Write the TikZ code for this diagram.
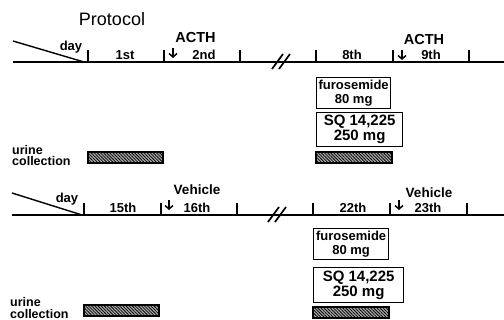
\documentclass[tikz,border=0pt]{standalone}
\usepackage{fontspec}
\setmainfont{Liberation Sans}
\usetikzlibrary{arrows.meta,patterns.meta}
\begin{document}
\begin{tikzpicture}[x=1pt,y=-1pt,
  lbl/.style={font=\bfseries\fontsize{13}{13}\selectfont, inner sep=0pt},
  daylbl/.style={lbl, anchor=base},
  axis/.style={line width=2pt},
  slope/.style={line width=1.4pt},
  tickmark/.style={line width=1.5pt},
  brk/.style={line width=1.7pt},
  inject/.style={line width=1.5pt, -{Straight Barb[length=3.5pt,width=8pt,line width=1.5pt]}},
  dose/.style={draw, line width=1.3pt, align=center, anchor=north west,
    font=\bfseries\fontsize{13}{13.5}\selectfont, inner xsep=2pt, inner ysep=2.5pt},
  sqdose/.style={dose, font=\bfseries\fontsize{15}{15}\selectfont},
  collect/.style={draw, line width=1.4pt, fill=gray!65,
    postaction={pattern={Lines[angle=-45,distance=2.2pt,line width=0.8pt]}}},
  urine/.style={lbl, align=left, anchor=west, font=\bfseries\fontsize{12.5}{11.5}\selectfont},
]
\useasboundingbox (0,0) rectangle (504,320);

% title
\node[font=\fontsize{18}{18}\selectfont, inner sep=0pt] (title) at (112,19) {Protocol};

% ===== top protocol =====
\coordinate (tl) at (13,62);
\coordinate (tr) at (504,62);
\coordinate (ts) at (13,41);
\coordinate (t0) at (84,62);
\draw[axis] (tl) -- (tr);
\draw[slope] (ts) -- (t0);
\foreach \x [count=\i] in {88,164,240,316,393,469} {
  \coordinate (tt\i) at (\x,62);
  \draw[tickmark] (tt\i) -- ++(0,-12);
}
\node[lbl] (tday) at (71,47) {day};
\node[daylbl] (t1st) at (125,59.5) {1st};
\node[daylbl] (t2nd) at (204,59.5) {2nd};
\node[daylbl] (t8th) at (352,59.5) {8th};
\node[daylbl] (t9th) at (431,59.5) {9th};
\node[lbl, font=\bfseries\fontsize{14.5}{14.5}\selectfont] (acth1) at (195.5,37.5) {ACTH};
\node[lbl, font=\bfseries\fontsize{14.5}{14.5}\selectfont] (acth2) at (424,40) {ACTH};
\coordinate (ta1) at (173,48);
\coordinate (tb1) at (173,58);
\coordinate (ta2) at (402,50);
\coordinate (tb2) at (402,60);
\draw[inject] (ta1) -- (tb1);
\draw[inject] (ta2) -- (tb2);
\draw[brk] (272,69) -- (283,54);
\draw[brk] (279,69) -- (290,54);

\node[dose, minimum width=74pt, minimum height=30pt] (tfuro) at (316,77) {furosemide\\80 mg};
\node[sqdose, minimum width=86pt, minimum height=32pt] (tsq) at (316,112) {SQ 14,225\\250 mg};
\draw[collect] (88,152) rectangle (163,163);
\draw[collect] (316,152) rectangle (392,163);
\node[urine] (turine) at (12,155.5) {urine\\collection};

% ===== bottom protocol =====
\coordinate (bl) at (12,215);
\coordinate (br) at (504,215);
\coordinate (bs) at (12,193);
\coordinate (b0) at (82,215);
\draw[axis, line width=2.3pt] (bl) -- (br);
\draw[slope] (bs) -- (b0);
\foreach \x [count=\i] in {84,161,237,313,390,467} {
  \coordinate (bt\i) at (\x,215);
  \draw[tickmark] (bt\i) -- ++(0,-12);
}
\node[lbl] (bday) at (67,199) {day};
\node[daylbl] (b15) at (123,212.5) {15th};
\node[daylbl] (b16) at (197,212.5) {16th};
\node[daylbl] (b22) at (353,212.5) {22th};
\node[daylbl] (b23) at (428,212.5) {23th};
\node[lbl, font=\bfseries\fontsize{13.5}{13.5}\selectfont] (veh1) at (197,190) {Vehicle};
\node[lbl, font=\bfseries\fontsize{13.5}{13.5}\selectfont] (veh2) at (429,193) {Vehicle};
\coordinate (ba1) at (169,200);
\coordinate (bb1) at (169,210);
\coordinate (ba2) at (399,200);
\coordinate (bb2) at (399,210);
\draw[inject] (ba1) -- (bb1);
\draw[inject] (ba2) -- (bb2);
\draw[brk] (268,222) -- (279,207);
\draw[brk] (275,222) -- (286,207);

\node[dose, minimum width=75pt, minimum height=31pt] (bfuro) at (313,228) {furosemide\\80 mg};
\node[sqdose, minimum width=90pt, minimum height=35pt] (bsq) at (313,267) {SQ 14,225\\250 mg};
\draw[collect] (84,305) rectangle (159,316);
\draw[collect] (313,307) rectangle (389,318);
\node[urine] (burine) at (10,308) {urine\\collection};
\end{tikzpicture}
\end{document}
